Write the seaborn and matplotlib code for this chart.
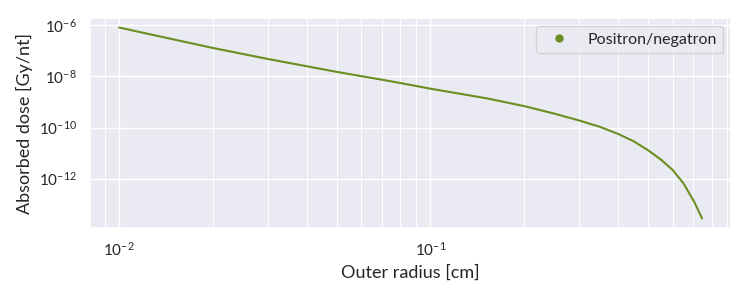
import numpy as np
import pandas as pd
import matplotlib
matplotlib.use("Agg")
import matplotlib.pyplot as plt
from matplotlib.lines import Line2D
from matplotlib.ticker import LogLocator, NullLocator
import seaborn as sns

# Data
outer_radius = [0.01, 0.02, 0.03, 0.04, 0.05, 0.06, 0.07, 0.08, 0.10, 0.15,
                0.20, 0.25, 0.30, 0.35, 0.40, 0.45, 0.50, 0.55, 0.60, 0.65,
                0.70, 0.71, 0.746]
absorbed_dose = [8.1e-7, 1.29e-7, 4.8e-8, 2.5e-8, 1.5e-8, 1.02e-8, 7.4e-9, 5.5e-9,
                 3.3e-9, 1.42e-9, 6.9e-10, 3.5e-10, 1.9e-10, 1.07e-10, 5.7e-11,
                 2.9e-11, 1.3e-11, 5.6e-12, 2.2e-12, 6.6e-13, 1.4e-13, 1.0e-13,
                 2.8e-14]
series_label = "Positron/negatron"
y_ticks = [1e-6, 1e-8, 1e-10, 1e-12]

sns.set_theme(style="darkgrid")
plt.rcParams["font.family"] = ["Lato", "DejaVu Sans"]

df = pd.DataFrame({"r": outer_radius, "dose": absorbed_dose})

fig = plt.figure(figsize=(7.5, 3.0), dpi=100)
ax = fig.add_axes([0.12, 0.24, 0.855, 0.70])

sns.lineplot(data=df, x="r", y="dose", color="olivedrab", linewidth=1.5, ax=ax)
ax.set_xscale("log")
ax.set_yscale("log")
ax.set_yticks(y_ticks)
ax.yaxis.set_minor_locator(NullLocator())
ax.xaxis.set_minor_locator(LogLocator(base=10, subs=np.arange(2, 10)))
ax.grid(True, which="major", color="white", linewidth=1.0)
ax.grid(True, which="minor", axis="x", color="white", linewidth=0.7)

ax.set_xlabel("Outer radius [cm]", fontsize=13)
ax.set_ylabel("Absorbed dose [Gy/nt]", fontsize=13)
ax.tick_params(axis="both", which="major", labelsize=11)

handle = Line2D([], [], linestyle="none", marker="o", markersize=5,
                color="olivedrab")
ax.legend([handle], [series_label], loc="upper right", fontsize=11.5,
          frameon=True)

fig.savefig("out.png", dpi=100)
